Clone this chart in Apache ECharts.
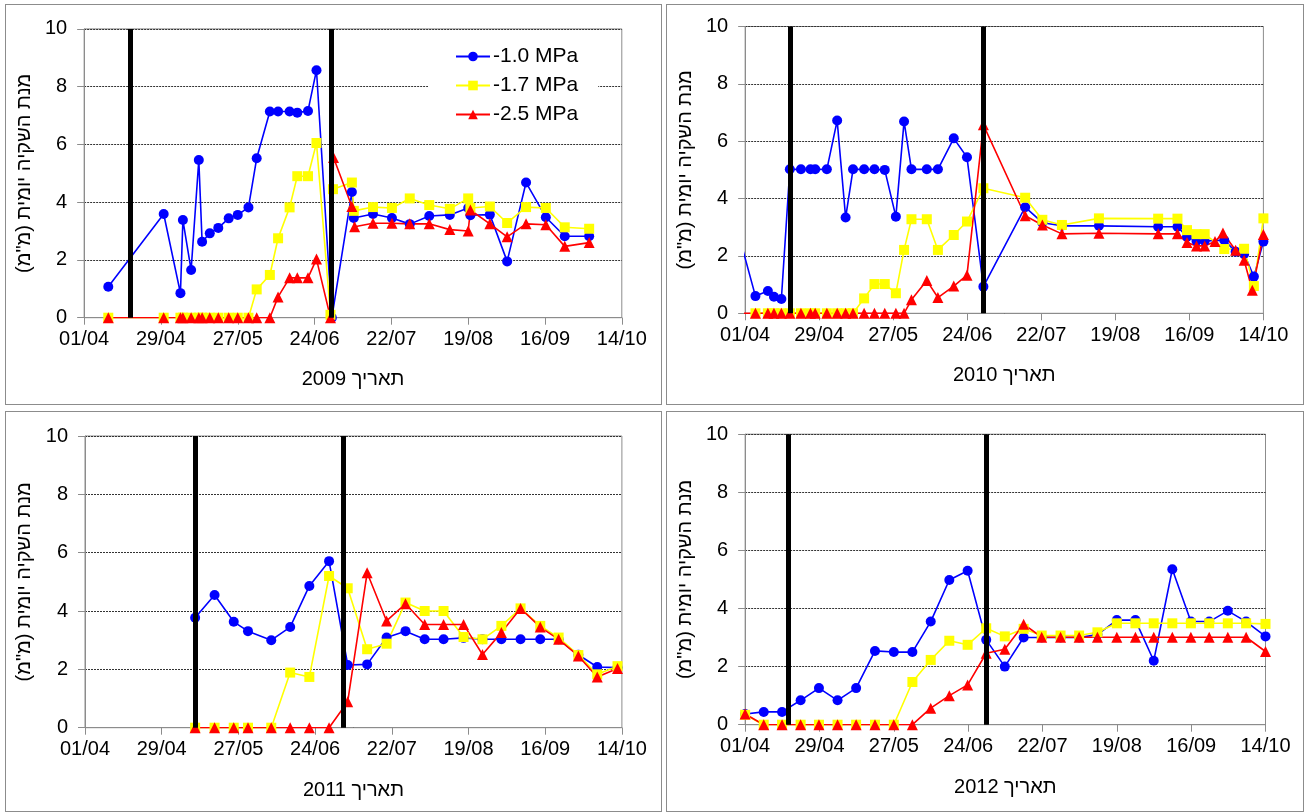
<!DOCTYPE html>
<html><head><meta charset="utf-8">
<script src="https://cdn.jsdelivr.net/npm/echarts@6/dist/echarts.min.js"></script>
<style>
html,body{margin:0;padding:0;background:#fff}
body{width:1307px;height:812px;position:relative;overflow:hidden}
.p{position:absolute;border:1px solid #8c8c8c;box-sizing:border-box}
</style></head><body>
<div id="c0" class="p" style="left:5px;top:4px;width:657px;height:401px"></div>
<div id="c1" class="p" style="left:666px;top:4px;width:638px;height:401px"></div>
<div id="c2" class="p" style="left:5px;top:411px;width:657px;height:401px"></div>
<div id="c3" class="p" style="left:666px;top:411px;width:638px;height:401px"></div>
<script>
// ---- data (x = days since 01/04) ----
const xTickLabels = ['01/04','29/04','27/05','24/06','22/07','19/08','16/09','14/10'];
const years = ['2009','2010','2011','2012'];
const seriesNames = ['-1.0 MPa','-1.7 MPa','-2.5 MPa'];
const yAxisTitle = 'מנת השקיה יומית (מ"מ)\u200F';
const xAxisTitlePrefix = 'תאריך ';

// 2009
const blueX2009 = [8.8,29,35.1,36,39,41.8,43,45.8,48.9,52.7,56,59.9,62.9,67.7,70.7,74.9,77.7,81.6,84.7,90.3,97.6,98.3,105.3,112.2,118.7,125.8,133.3,140,140.8,147.9,154.2,161.1,168.3,175.2,184.1];
const blueY2009 = [1.07,3.59,0.85,3.38,1.65,5.46,2.63,2.92,3.11,3.44,3.56,3.82,5.52,7.14,7.14,7.14,7.1,7.16,8.57,0,4.35,3.45,3.59,3.45,3.24,3.52,3.56,3.8,3.55,3.57,1.95,4.68,3.48,2.82,2.82];
const yellowX2009 = [8.8,29,35.1,36,39,41.8,43,45.8,48.9,52.7,56,59.9,62.9,67.7,70.7,74.9,77.7,81.6,84.7,89.8,90.7,97.6,98.3,105.3,112.2,118.7,125.8,133.3,140,140.8,147.9,154.2,161.1,168.3,175.2,184.1];
const yellowY2009 = [0,0,0,0,0,0,0,0,0,0,0,0,0.98,1.48,2.75,3.82,4.9,4.9,6.05,0.1,4.45,4.68,3.7,3.83,3.8,4.13,3.9,3.77,4.13,3.8,3.85,3.28,3.83,3.8,3.13,3.08];
const redX2009 = [8.8,29,35.1,36,39,41.8,43,45.8,48.9,52.7,56,59.9,62.9,67.7,70.7,74.9,77.7,81.6,84.7,89.8,90.9,97.6,98.6,105.3,112.2,118.7,125.8,133.3,140,140.8,147.9,154.2,161.1,168.3,175.2,184.1];
const redY2009 = [0,0,0,0,0,0,0,0,0,0,0,0,0,0,0.72,1.38,1.38,1.38,2.03,0,5.55,3.85,3.15,3.27,3.27,3.25,3.25,3.05,3.0,3.73,3.25,2.8,3.25,3.22,2.47,2.6];
const stages2009 = [16.9,90.2];

// 2010
const blueX2010 = [-2,3.9,8.6,10.9,13.7,16.9,21.1,24.7,26.5,30.9,34.8,38,40.8,45,48.9,52.8,57,60.1,62.9,68.7,72.9,78.9,83.9,90.1,105.9,112.4,119.8,133.8,156.2,163.5,167.1,170.7,173.8,181.2,185.5,188.7,192.4,196];
const blueY2010 = [2.6,0.6,0.78,0.58,0.5,5.02,5.02,5.02,5.02,5.02,6.72,3.34,5.02,5.02,5.02,5.0,3.37,6.69,5.02,5.02,5.02,6.1,5.44,0.93,3.7,3.16,3.05,3.05,3.02,3.02,2.67,2.52,2.52,2.55,2.15,2.07,1.28,2.5];
const yellowX2010 = [3.9,8.6,10.9,13.7,16.9,21.1,24.7,26.5,30.9,34.8,38,40.8,45,48.9,52.8,57,60.1,62.9,68.7,72.9,78.9,83.9,90.1,105.9,112.4,119.8,133.8,156.2,163.5,167.1,170.7,173.8,181.2,188.7,192.4,196];
const yellowY2010 = [0,0,0,0,0,0,0,0,0,0,0,0,0.52,1.02,1.02,0.7,2.21,3.28,3.28,2.21,2.73,3.2,4.36,4.03,3.26,3.08,3.31,3.3,3.3,2.9,2.76,2.76,2.24,2.25,0.95,3.31];
const redX2010 = [-2,3.9,8.6,10.9,13.7,16.9,21.1,24.7,26.5,30.9,34.8,38,40.8,45,48.9,52.8,57,60.1,62.9,68.7,72.9,78.9,83.9,90.1,105.9,112.4,119.8,133.8,156.2,163.5,167.1,170.7,173.8,177.7,180.7,185.5,188.7,191.8,196];
const redY2010 = [0,0,0,0,0,0,0,0,0,0,0,0,0,0,0,0,0,0,0.47,1.14,0.55,0.95,1.33,6.57,3.4,3.08,2.77,2.79,2.77,2.77,2.47,2.35,2.35,2.5,2.8,2.2,1.85,0.8,2.75];
const stages2010 = [17.2,90.0];

// 2011
const daysX2011 = [40.2,47.3,54.3,59.5,68,74.9,81.9,89.1,95.9,103,110.1,117,124,130.9,138.2,145.1,152,159,166.2,172.9,180.1,187,194.4];
const blueY2011 = [3.77,4.55,3.63,3.31,3.0,3.45,4.86,5.71,2.15,2.17,3.09,3.31,3.03,3.03,3.08,3.03,3.03,3.03,3.03,3.03,2.5,2.08,2.06];
const yellowY2011 = [0,0,0,0,0,1.89,1.74,5.2,4.78,2.69,2.88,4.29,4.0,4.0,3.11,3.03,3.49,4.09,3.49,3.09,2.49,1.83,2.11];
const redY2011 = [0,0,0,0,0,0,0,0,0.89,5.31,3.66,4.25,3.54,3.54,3.54,2.51,3.26,4.09,3.45,3.03,2.46,1.74,2.03];
const stages2011 = [40.2,94.3];

// 2012
const daysX2012 = [0,7,13.9,20.9,27.8,34.8,41.8,48.9,56,63,69.9,76.9,83.8,90.8,97.8,104.9,111.7,118.8,125.8,132.7,140,147,153.9,160.9,167.9,174.8,181.8,188.7,196];
const blueY2012 = [0.37,0.44,0.44,0.84,1.26,0.84,1.26,2.54,2.5,2.5,3.55,4.98,5.3,2.92,2.0,3.0,3.0,3.0,3.0,3.1,3.6,3.6,2.2,5.35,3.55,3.55,3.92,3.55,3.04];
const yellowY2012 = [0.34,0,0,0,0,0,0,0,0,1.47,2.23,2.89,2.75,3.32,3.04,3.3,3.07,3.07,3.07,3.18,3.49,3.49,3.49,3.49,3.49,3.49,3.49,3.49,3.47];
const redY2012 = [0.37,0,0,0,0,0,0,0,0,0,0.57,1.0,1.37,2.46,2.6,3.46,3.01,3.01,3.01,3.01,3.01,3.01,3.01,3.01,3.01,3.01,3.01,3.01,2.52];
const stages2012 = [16.1,90.9];

// ---- build ----
function pairs(xs, ys){ return xs.map((x,i)=>[x, ys[i]]); }

const panels = [
  {el:'c0', year:years[0], blue:pairs(blueX2009,blueY2009), yellow:pairs(yellowX2009,yellowY2009), red:pairs(redX2009,redY2009), stages:stages2009,
   grid:{left:77.3, top:23.9, width:538.5, height:288.8}, xGap:52, legend:true},
  {el:'c1', year:years[1], blue:pairs(blueX2010,blueY2010), yellow:pairs(yellowX2010,yellowY2010), red:pairs(redX2010,redY2010), stages:stages2010,
   grid:{left:77, top:21.5, width:519.4, height:286.8}, xGap:52},
  {el:'c2', year:years[2], blue:pairs(daysX2011,blueY2011), yellow:pairs(daysX2011,yellowY2011), red:pairs(daysX2011,redY2011), stages:stages2011,
   grid:{left:79, top:24, width:536.9, height:291.7}, xGap:53},
  {el:'c3', year:years[3], blue:pairs(daysX2012,blueY2012), yellow:pairs(daysX2012,yellowY2012), red:pairs(daysX2012,redY2012), stages:stages2012,
   grid:{left:75.5, top:22.2, width:523, height:290.5}, xGap:53}
];

const FONT = 'Liberation Sans, Arial, sans-serif';

panels.forEach(p => {
  const chart = echarts.init(document.getElementById(p.el), null, {renderer:'canvas'});
  const mk = (name, data, color, symbol, size) => ({
    name, type:'line', data, color, symbol, symbolSize:size, showSymbol:true,
    lineStyle:{color, width:1.6}, itemStyle:{color, borderWidth:0},
    emphasis:{disabled:true}, animation:false, z:2
  });
  const option = {
    animation:false,
    textStyle:{fontFamily:FONT, color:'#000'},
    grid:Object.assign({show:true, borderColor:'#8c8c8c', borderWidth:1, backgroundColor:'transparent', containLabel:false}, p.grid),
    legend: p.legend ? {
      show:true, data:seriesNames, orient:'vertical', left:422, top:33,
      padding:[8,20,8,27], itemGap:8, itemWidth:34, itemHeight:12,
      backgroundColor:'#fff', textStyle:{fontSize:21, fontFamily:FONT, color:'#000', padding:[0,0,0,-2]},
      selectedMode:false
    } : {show:false},
    xAxis:{
      type:'value', min:0, max:196, interval:28,
      name: xAxisTitlePrefix + p.year, nameLocation:'middle', nameGap:p.xGap,
      nameTextStyle:{fontSize:20, fontFamily:FONT, color:'#000'},
      axisLine:{show:true, onZero:false, lineStyle:{color:'#8c8c8c', width:1}},
      axisTick:{show:true, length:7, lineStyle:{color:'#8c8c8c'}},
      axisLabel:{fontSize:20, color:'#000', margin:12, fontFamily:FONT,
        formatter:v => xTickLabels[Math.round(v/28)] || ''},
      splitLine:{show:false}
    },
    yAxis:{
      type:'value', min:0, max:10, interval:2,
      name: yAxisTitle, nameLocation:'middle', nameGap:45, nameRotate:90,
      nameTextStyle:{fontSize:20, fontFamily:FONT, color:'#000'},
      axisLine:{show:true, lineStyle:{color:'#8c8c8c', width:1}},
      axisTick:{show:true, length:7, lineStyle:{color:'#8c8c8c'}},
      axisLabel:{fontSize:20, color:'#000', margin:17, fontFamily:FONT},
      splitLine:{show:true, lineStyle:{color:'#333', width:1, type:[2,1]}}
    },
    series:[
      mk(seriesNames[0], p.blue, '#0000ff', 'circle', 10),
      mk(seriesNames[1], p.yellow, '#ffff00', 'rect', 10),
      mk(seriesNames[2], p.red, '#ff0000', 'triangle', 11),
      {name:'stages', type:'line', data:[], z:5, silent:true,
       markLine:{silent:true, symbol:['none','none'], label:{show:false},
         lineStyle:{color:'#000', width:5, type:'solid'}, emphasis:{disabled:true},
         data:p.stages.map(d=>({xAxis:d}))}}
    ]
  };
  chart.setOption(option);
});
</script>
</body></html>
